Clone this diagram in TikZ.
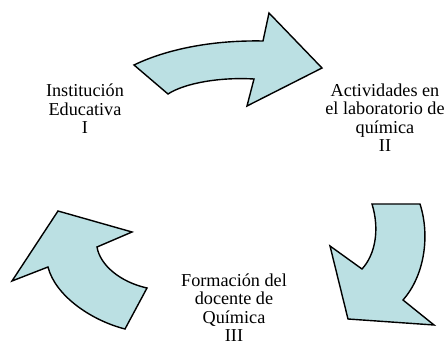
\documentclass[tikz,border=0pt]{standalone}
\usepackage{fontspec}
\setmainfont{Liberation Serif}
\definecolor{arrowfill}{RGB}{187,224,227}
\begin{document}
\begin{tikzpicture}[x=1pt,y=-1pt,
  bentarrow/.style={draw=black,fill=arrowfill,line width=1.4pt,line join=miter},
  label/.style={align=center,inner sep=0pt,anchor=base,font=\fontsize{18.2}{18.5}\selectfont}]
\useasboundingbox (0,0) rectangle (448,347);
% top arrow
\draw[bentarrow] (134,65) .. controls (165,50) and (210,40) .. (263,41)
  -- (269,13) -- (322,68) -- (247,106) -- (254,79)
  .. controls (220,77) and (185,83) .. (168,94) -- cycle;
% right arrow
\draw[bentarrow] (372,204) -- (420,204)
  .. controls (430,235) and (425,275) .. (403,300)
  -- (434,325) -- (348,319) -- (330,246) -- (362,269)
  .. controls (375,255) and (380,230) .. (372,204) -- cycle;
% left arrow
\draw[bentarrow] (58,211) -- (132,232) -- (97,247)
  .. controls (100,265) and (120,282) .. (147,288)
  -- (125,329)
  .. controls (90,320) and (55,295) .. (48,267)
  -- (12,281) -- cycle;
\node[label] (inst) at (85,134) {Institución\\Educativa\\I};
\node[label] (lab) at (385,152) {Actividades en\\el laboratorio de\\química\\II};
\node[label] (form) at (234,342) {Formación del\\docente de\\Química\\III};
\end{tikzpicture}
\end{document}
